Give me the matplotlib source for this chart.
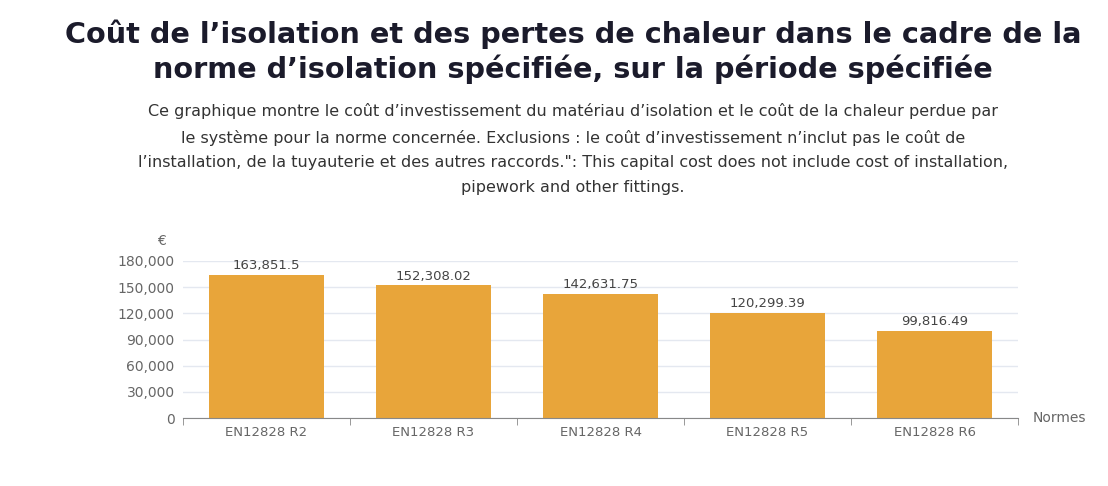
import matplotlib.pyplot as plt
from matplotlib.ticker import FuncFormatter

categories = ["EN12828 R2", "EN12828 R3", "EN12828 R4", "EN12828 R5", "EN12828 R6"]
values = [163851.5, 152308.02, 142631.75, 120299.39, 99816.49]
value_labels = ["163,851.5", "152,308.02", "142,631.75", "120,299.39", "99,816.49"]
y_ticks = [0, 30000, 60000, 90000, 120000, 150000, 180000]

title = "Coût de l’isolation et des pertes de chaleur dans le cadre de la\nnorme d’isolation spécifiée, sur la période spécifiée"
subtitle = ("Ce graphique montre le coût d’investissement du matériau d’isolation et le coût de la chaleur perdue par\n"
            "le système pour la norme concernée. Exclusions : le coût d’investissement n’inclut pas le coût de\n"
            "l’installation, de la tuyauterie et des autres raccords.\": This capital cost does not include cost of installation,\n"
            "pipework and other fittings.")

plt.rcParams["font.family"] = ["DejaVu Sans"]

fig = plt.figure(figsize=(11.08, 4.86), dpi=100)
ax = fig.add_axes([183 / 1108, 1 - 418 / 486, (1018 - 183) / 1108, (418 - 261) / 486])

x = list(range(len(categories)))
ax.bar(x, values, width=0.69, color="#E8A53A", zorder=2)
for xi, v, lab in zip(x, values, value_labels):
    ax.text(xi, v + 3000, lab, ha="center", va="bottom", fontsize=9.5, color="#444444")

ax.set_xlim(-0.5, len(categories) - 0.5)
ax.set_ylim(0, 180000)
ax.set_yticks(y_ticks)
ax.yaxis.set_major_formatter(FuncFormatter(lambda v, p: f"{int(v):,}"))
ax.set_xticks(x)
ax.set_xticklabels(categories)
ax.set_xticks([i - 0.5 for i in range(len(categories) + 1)], minor=True)
ax.tick_params(axis="x", which="major", length=0, labelsize=9.5, colors="#666666", pad=6)
ax.tick_params(axis="x", which="minor", length=5, color="#888888")
ax.tick_params(axis="y", length=0, labelsize=10, colors="#666666", pad=6)
ax.grid(axis="y", color="#E4E8F0", linewidth=1, zorder=0)
for s in ["top", "right", "left"]:
    ax.spines[s].set_visible(False)
ax.spines["bottom"].set_color("#888888")

ax.text(-0.02, 1.08, "€", transform=ax.transAxes, ha="right", va="bottom", fontsize=10, color="#666666")
ax.text(1.017, 0, "Normes", transform=ax.transAxes, ha="left", va="center", fontsize=10, color="#666666")

fig.text(0.517, 0.894, title, ha="center", va="center", fontsize=20.7, fontweight="bold",
         color="#1B1B2B", linespacing=1.25)
fig.text(0.517, 0.693, subtitle, ha="center", va="center", fontsize=11.5, color="#333333",
         linespacing=1.8)

fig.savefig("out.png", dpi=100, facecolor="white")
